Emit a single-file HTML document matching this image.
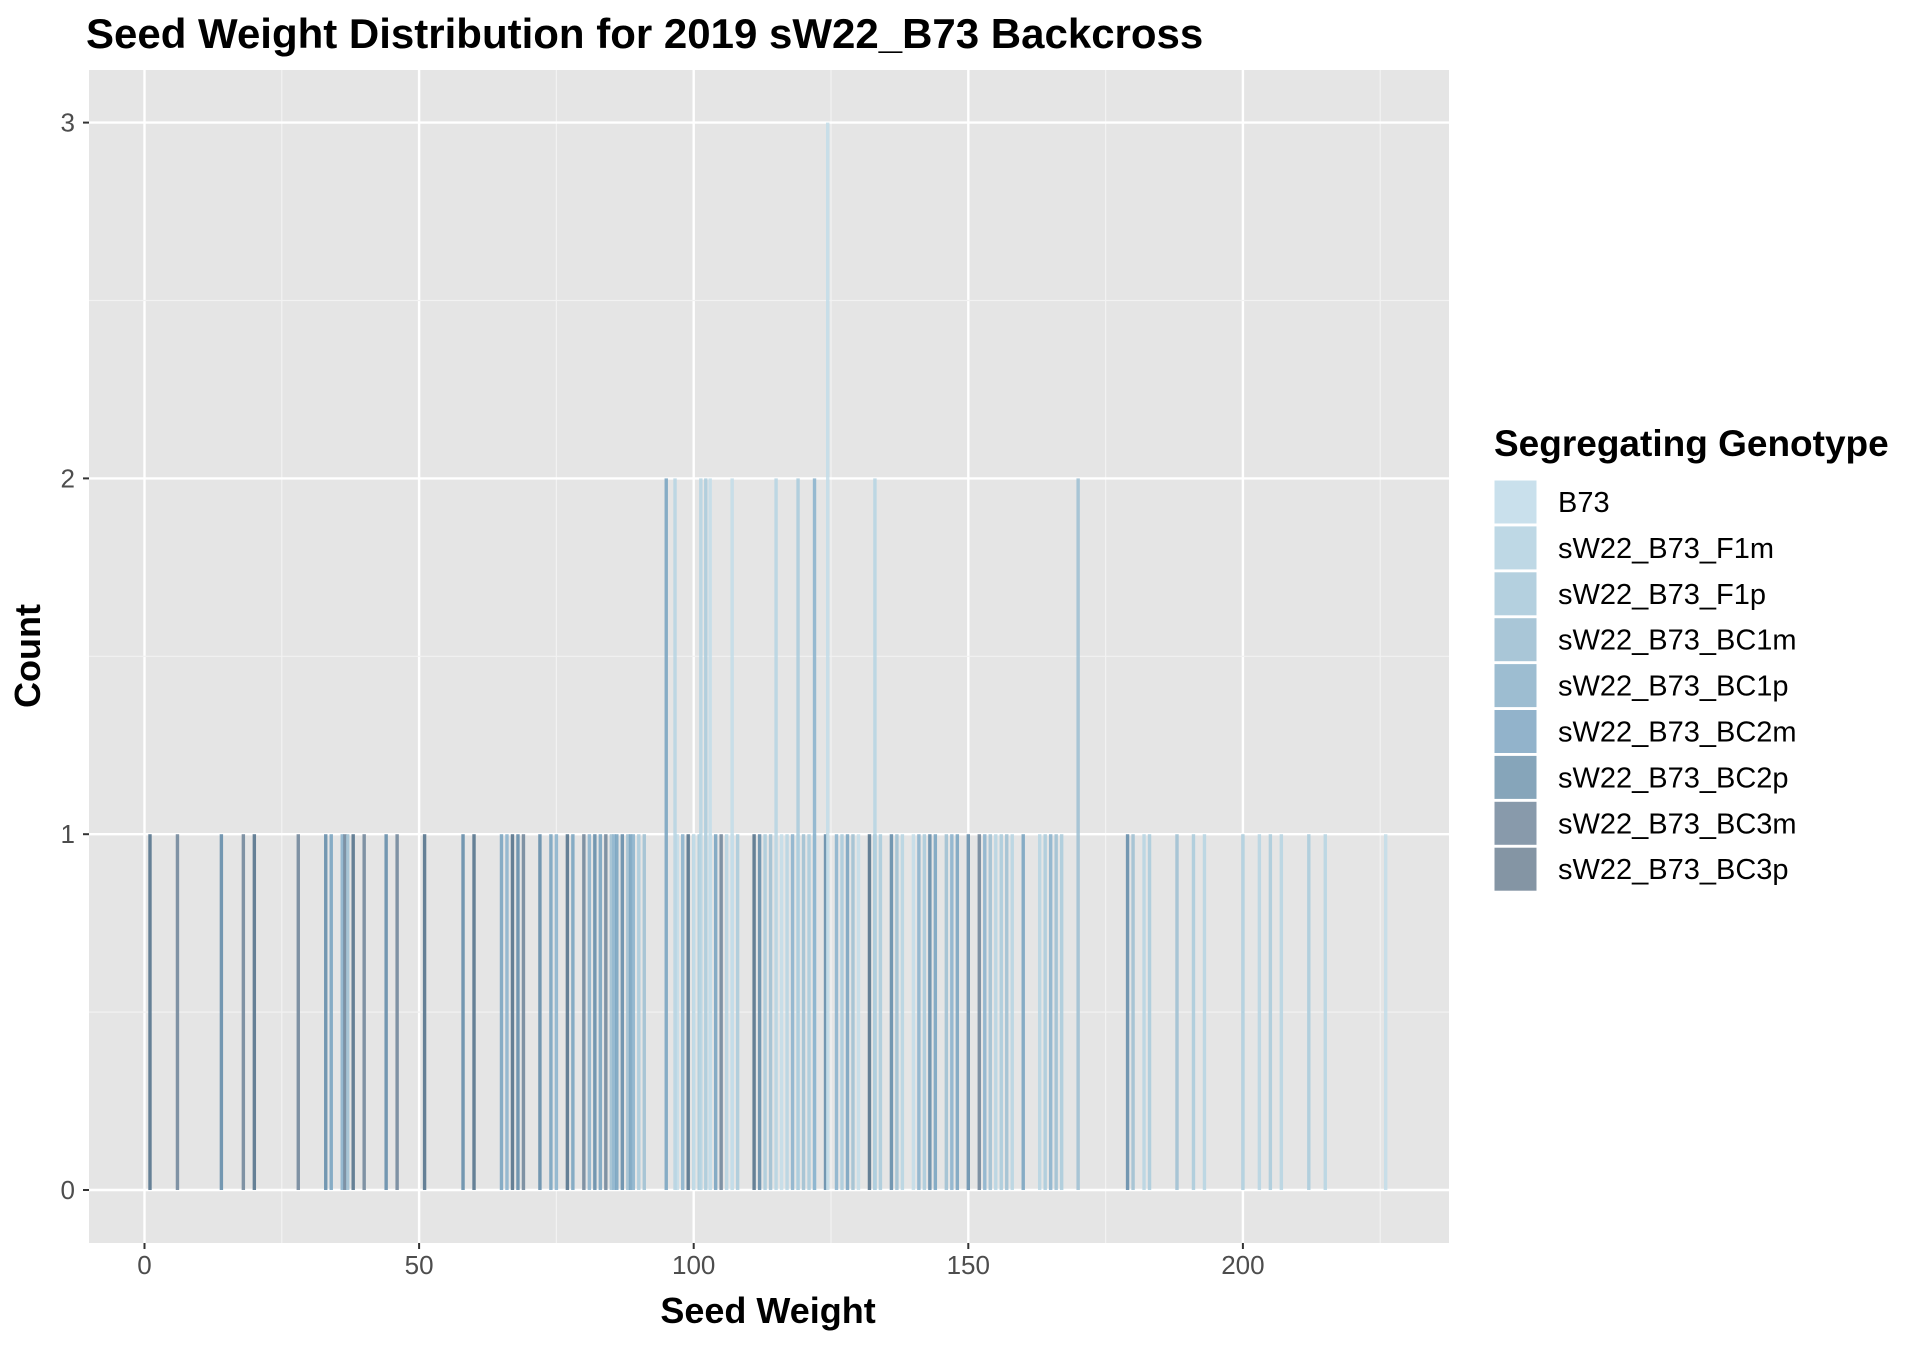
<!DOCTYPE html>
<html><head><meta charset="utf-8"><style>
body{margin:0;background:#fff;}
svg text{font-family:"Liberation Sans",Arial,sans-serif;}
</style></head><body>
<svg id="chart" width="1920" height="1344" xmlns="http://www.w3.org/2000/svg">
<rect width="1920" height="1344" fill="#fff"/>
<text x="86" y="48" font-size="42" font-weight="bold">Seed Weight Distribution for 2019 sW22_B73 Backcross</text>
<rect x="89" y="70" width="1360" height="1173" fill="#e5e5e5"/>
<g id="grid"></g>
<g id="bars"></g>
<g id="axes"></g>
<text x="768" y="1323" font-size="36" font-weight="bold" text-anchor="middle">Seed Weight</text>
<text transform="translate(40,656) rotate(-90)" font-size="36" font-weight="bold" text-anchor="middle">Count</text>
<text x="1494" y="456" font-size="37" font-weight="bold">Segregating Genotype</text>
<g id="legend"></g>
</svg>
<script>
const groups=["B73","sW22_B73_F1m","sW22_B73_F1p","sW22_B73_BC1m","sW22_B73_BC1p","sW22_B73_BC2m","sW22_B73_BC2p","sW22_B73_BC3m","sW22_B73_BC3p"];
const legendColors=["#c9e0ec","#bed8e5","#b4d0df","#a9c6d7","#9dbdd1","#92b3cb","#86a5ba","#889aab","#8495a4"];
const barColors=["#c3dde9","#b6d5e3","#a9cbdc","#9dbfd2","#88b2cc","#76a2c0","#5f8aa8","#6d8499","#4f6e88"];
const weights=[1,6,14,18,20,28,33,34,36,36.5,37,38,40,44,46,51,58,60,65,66,67,68,69,72,74,75,77,78,80,81,82,83,84,85,85.5,86,87,88,88.5,89,90,91,97,98,99,100,101,103,104,105,106,107,108,111,112,113,114,116,117,118,119,120,121,122,124,126,127,128,129,130,132,133,134,136,137,138,140,141,142,143,144,146,147,148,150,152,153,154,155,156,157,158,160,163,164,165,166,167,179,180,182,183,188,191,193,200,203,205,207,212,215,226,95,96.6,101.3,102.2,103,107,115,119,122,133,170,124.4];
const counts=[1,1,1,1,1,1,1,1,1,1,1,1,1,1,1,1,1,1,1,1,1,1,1,1,1,1,1,1,1,1,1,1,1,1,1,1,1,1,1,1,1,1,1,1,1,1,1,1,1,1,1,1,1,1,1,1,1,1,1,1,1,1,1,1,1,1,1,1,1,1,1,1,1,1,1,1,1,1,1,1,1,1,1,1,1,1,1,1,1,1,1,1,1,1,1,1,1,1,1,1,1,1,1,1,1,1,1,1,1,1,1,1,2,2,2,2,2,2,2,2,2,2,2,3];
const genotypeIdx=[8,7,6,7,8,7,6,5,4,7,3,8,7,6,7,8,6,8,5,4,8,6,7,6,5,4,8,5,7,4,6,5,7,3,4,5,6,3,5,4,2,3,0,4,8,1,2,0,5,7,1,0,2,8,6,2,3,0,1,4,0,3,2,1,6,4,2,5,3,0,8,5,2,6,3,1,0,4,2,6,5,3,4,5,6,7,4,3,1,2,3,1,5,1,2,4,3,2,6,3,1,2,3,2,1,2,1,2,1,2,1,0,5,1,1,2,0,0,1,2,4,1,3,0];
const xTicks=[0,50,100,150,200];
const yTicks=[0,1,2,3];
const X=v=>144.5+v*5.492;
const Y=c=>1190-c*355.8;
const NS="http://www.w3.org/2000/svg";
function mk(tag,attrs,parent){const e=document.createElementNS(NS,tag);for(const k in attrs)e.setAttribute(k,attrs[k]);parent.appendChild(e);return e;}
const grid=document.getElementById('grid'),bars=document.getElementById('bars'),axes=document.getElementById('axes'),legend=document.getElementById('legend');
for(let i=0;i<xTicks.length;i++){
  const minor=xTicks[i]+25;
  if(X(minor)<1449){const m=mk('line',{x1:X(minor),x2:X(minor),y1:70,y2:1243,stroke:'#f2f2f2','stroke-width':1.2},grid);
  
  }
  const l=mk('line',{x1:X(xTicks[i]),x2:X(xTicks[i]),y1:70,y2:1243,stroke:'#fff','stroke-width':2.4},grid);
  
  
  const t=mk('text',{x:X(xTicks[i]),y:1274,'font-size':26,fill:'#4d4d4d','text-anchor':'middle'},axes);
  t.textContent=xTicks[i];
  
  
  mk('line',{x1:X(xTicks[i]),x2:X(xTicks[i]),y1:1243,y2:1249,stroke:'#333','stroke-width':2},axes);
}
for(let i=0;i<yTicks.length;i++){
  if(i<yTicks.length-1){const m=mk('line',{x1:89,x2:1449,y1:Y(yTicks[i]+0.5),y2:Y(yTicks[i]+0.5),stroke:'#f2f2f2','stroke-width':1.2},grid);
  
  }
  const l=mk('line',{x1:89,x2:1449,y1:Y(yTicks[i]),y2:Y(yTicks[i]),stroke:'#fff','stroke-width':2.4},grid);
  
  
  const t=mk('text',{x:75,y:Y(yTicks[i])+9,'font-size':26,fill:'#4d4d4d','text-anchor':'end'},axes);
  t.textContent=yTicks[i];
  
  
  mk('line',{x1:83,x2:89,y1:Y(yTicks[i]),y2:Y(yTicks[i]),stroke:'#333','stroke-width':2},axes);
}
for(let i=0;i<weights.length;i++){
  const g=genotypeIdx[i];
  const r=mk('rect',{x:X(weights[i])-1.7,y:Y(counts[i]),width:3.4,height:Y(0)-Y(counts[i]),fill:barColors[g],'fill-opacity':0.85},bars);
  
  
}
for(let i=0;i<groups.length;i++){
  const cy=502+i*45.9;
  const k=mk('rect',{x:1494,y:cy-22,width:43,height:44,fill:legendColors[i],stroke:'#fff','stroke-width':1},legend);
  
  
  const t=mk('text',{x:1558,y:cy+10,'font-size':29,fill:'#000'},legend);
  t.textContent=groups[i];
  
  
}
</script>
</body></html>
